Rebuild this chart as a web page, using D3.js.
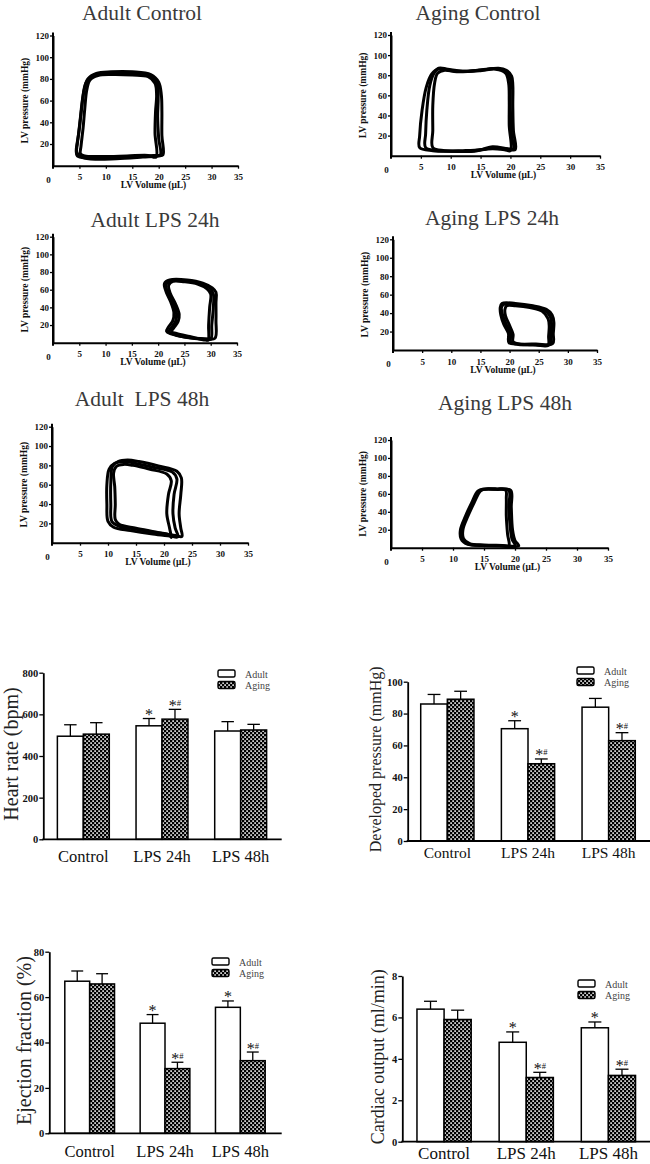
<!DOCTYPE html>
<html><head><meta charset="utf-8">
<script src="https://cdn.jsdelivr.net/npm/d3@7"></script>
<style>html,body{margin:0;padding:0;background:#fff;}svg{display:block;}</style>
</head><body>
<svg id="fig" width="650" height="1164"></svg>
<script>
// ---------------- DATA ----------------
const pvTitles = ["Adult Control", "Aging Control", "Adult LPS 24h", "Aging LPS 24h", "Adult  LPS 48h", "Aging LPS 48h"];
const volumeTicks = [0, 5, 10, 15, 20, 25, 30, 35];
const pressureTicks = [20, 40, 60, 80, 100, 120];
const volumeLabel = "LV Volume (\u03BCL)";
const pressureLabel = "LV pressure (mmHg)";

// PV loops: [volume (µL), pressure (mmHg)] per beat
const adultControlLoops = [
  [[20.3,10],[20.0,25],[19.8,45],[19.9,62],[19.8,75],[18.8,82],[16,85],[12,86],[9,85],[7.2,82],[6.2,76],[5.6,62],[5.2,45],[4.8,28],[4.4,14],[4.6,9],[6.5,7],[10,7],[15,8.5],[19,9.5]],
  [[20.8,10],[20.6,28],[20.6,50],[20.5,65],[20.0,77],[18.5,84],[15,86.5],[11,86.5],[8.2,85],[6.6,80],[5.9,70],[5.4,52],[5.0,35],[4.6,20],[4.5,12],[5.5,8],[8,6],[12,6.5],[17,8],[20,9]],
  [[19.5,8],[19.3,30],[19.4,50],[19.6,65],[19.3,76],[18,82],[15,83.5],[11,84],[8.5,83],[7,79],[6.4,70],[6.0,52],[5.7,35],[5.3,18],[5.2,11],[6,9],[9,8.5],[14,9],[18,9.5]]
];
const agingControlLoops = [
  [[20.5,7],[20.2,20],[20.0,45],[20.0,65],[20.0,76],[19.4,83],[18,86.5],[16,86],[13,84],[10,84.5],[8,86.5],[6.8,81],[5.9,68],[5.2,45],[4.8,20],[4.8,8],[7,5],[10,4.5],[14,4.5],[17,8],[19,7]],
  [[20.8,6],[20.5,25],[20.4,50],[20.4,70],[20.2,79],[19.3,85],[18,87],[15,85],[12,84],[9.5,86],[8,87],[7.2,82],[6.5,70],[6.0,45],[5.8,22],[5.8,8],[8,5],[12,5],[15,6],[17,9],[19.5,7]],
  [[20.0,5],[19.8,30],[19.8,55],[19.7,72],[19.2,82],[17.5,86],[15,84.5],[11,83.5],[9,85],[7.8,82],[7.3,72],[7.0,50],[7.0,25],[7.0,8],[9,5],[13,4.5],[17,7],[19,6]]
];
const adultLps24Loops = [
  [[30.0,4],[30.2,20],[30.5,40],[30.5,55],[29.8,62],[28,67],[25,70],[22.5,70],[21.5,66],[21.8,57],[22.8,45],[23.5,33],[23.3,24],[22.5,17],[22.0,12],[23,9.5],[25.5,6],[28.5,4]],
  [[29.5,3],[29.6,20],[29.8,40],[30.0,55],[29.3,61],[27.5,66.5],[25,69],[22.8,69.5],[22,65],[22.3,56],[23.3,44],[24.0,32],[23.8,24],[23.0,17],[22.5,12.5],[23.5,10.5],[26,7],[29,3]],
  [[30.8,5],[31.0,25],[31.0,45],[31.0,57],[30.3,62],[28.5,67.5],[25.5,71],[22.2,71],[21.2,67],[21.5,58],[22.4,46],[23.0,34],[22.8,25],[22.0,18],[21.6,13],[22.5,10],[25,6.5],[29,4.5]]
];
const agingLps24Loops = [
  [[27.0,6],[27.1,15],[27.2,28],[27.0,36],[26.0,43],[24,47],[21,49],[19,49.5],[18.6,46],[18.8,38],[19.4,28],[20.2,18],[20.2,9],[21.5,6],[24,6]],
  [[26.6,5],[26.7,15],[26.8,26],[26.6,34],[25.6,42],[23.5,46],[21,48],[19.5,48],[19.2,44],[19.3,37],[19.9,28],[20.6,17],[20.6,9],[22,6],[24.5,5.5]],
  [[27.4,7],[27.5,18],[27.6,30],[27.3,38],[26.3,44],[24,48],[21,50.5],[18.7,50.5],[18.4,46],[18.5,38],[19.0,28],[19.8,18],[19.9,8],[21.5,6.5],[24.5,6.5]]
];
const adultLps48Loops = [
  [[22.5,6],[22.0,15],[21.6,30],[21.8,50],[22.3,66],[21.5,73],[18,78],[15,82],[13,84],[11.2,82],[10.2,76],[9.8,60],[9.8,40],[10.0,22],[11,16],[14,12.5],[18,9],[21,7]],
  [[23.2,6.5],[23.0,15],[22.7,30],[23.0,50],[23.1,67],[22.3,74],[19,79.5],[15.5,84],[13.5,85.5],[11.8,84],[10.8,79],[10.5,62],[10.5,40],[10.7,22],[12,17],[15,14],[19,10],[22,7.5]],
  [[21.3,5.5],[21.0,15],[20.5,30],[20.8,50],[21.3,64],[20.5,71],[17.5,76],[14.5,80],[12.8,81],[11.5,79],[11.0,72],[11.2,58],[11.3,40],[11.3,24],[12,19],[15,15],[18.5,11],[21,8]]
];
const agingLps48Loops = [
  [[19.0,2],[18.8,15],[18.6,35],[18.6,55],[18.5,64],[17,65],[15,65],[14.2,63],[13.2,50],[12.2,35],[11.4,20],[11.5,10],[12.5,4],[15,2.5],[17.5,2.5]],
  [[20.0,2],[19.5,10],[19.2,25],[19.0,45],[19.0,64],[17,65.5],[15,65.5],[14.0,63],[13.0,50],[12.0,35],[11.2,20],[11.3,10],[12.3,4],[15,2.5],[17.5,2]],
  [[20.6,2],[20.0,8],[19.6,20],[19.4,45],[19.3,64],[17,65],[15,65],[14.4,63],[13.4,50],[12.4,35],[11.6,20],[11.7,10],[12.7,4.5],[15,3],[18,2.5]]
];
const pvLoops = [adultControlLoops, agingControlLoops, adultLps24Loops, agingLps24Loops, adultLps48Loops, agingLps48Loops];

// Bar charts
const barCategories = ["Control", "LPS 24h", "LPS 48h"];
const seriesNames = ["Adult", "Aging"];

const heartRateAdult = [495, 545, 520];
const heartRateAdultSem = [55, 35, 45];
const heartRateAging = [505, 577, 525];
const heartRateAgingSem = [55, 47, 27];
const heartRateAdultMarks = ["", "*", ""];
const heartRateAgingMarks = ["", "*#", ""];
const heartRateTicks = [0, 200, 400, 600, 800];

const devPressureAdult = [86, 70.5, 84];
const devPressureAdultSem = [6, 5, 5.5];
const devPressureAging = [89, 48.5, 63];
const devPressureAgingSem = [5, 3, 5];
const devPressureAdultMarks = ["", "*", ""];
const devPressureAgingMarks = ["", "*#", "*#"];
const devPressureTicks = [0, 20, 40, 60, 80, 100];

const ejectionAdult = [67, 48.5, 55.5];
const ejectionAdultSem = [4.5, 3.8, 2.8];
const ejectionAging = [65.8, 28.5, 32];
const ejectionAgingSem = [4.5, 2.8, 3.8];
const ejectionAdultMarks = ["", "*", "*"];
const ejectionAgingMarks = ["", "*#", "*#"];
const ejectionTicks = [0, 20, 40, 60, 80];

const cardiacAdult = [6.4, 4.8, 5.5];
const cardiacAdultSem = [0.38, 0.5, 0.28];
const cardiacAging = [5.9, 3.1, 3.2];
const cardiacAgingSem = [0.45, 0.25, 0.3];
const cardiacAdultMarks = ["", "*", "*"];
const cardiacAgingMarks = ["", "*#", "*#"];
const cardiacTicks = [0, 2, 4, 6, 8];

// ---------------- DRAWING ----------------
const svg = d3.select("#fig");
const SERIF = "'Liberation Serif','Times New Roman',serif";

const defs = svg.append("defs");
const pat = defs.append("pattern").attr("id", "checker")
  .attr("patternUnits", "userSpaceOnUse").attr("width", 4).attr("height", 4);
pat.append("rect").attr("width", 4).attr("height", 4).attr("fill", "#000");
pat.append("rect").attr("x", 0.3).attr("y", 0.3).attr("width", 1.6).attr("height", 1.6).attr("fill", "#fff");
pat.append("rect").attr("x", 2.3).attr("y", 2.3).attr("width", 1.6).attr("height", 1.6).attr("fill", "#fff");

// PV panel layout (pixel frames)
const pvLayout = [
  {x0: 53, x1: 238, y0: 165.7, y1: 35.5, tx: 142, ty: 20},
  {x0: 391, x1: 600, y0: 155.7, y1: 35, tx: 478, ty: 20},
  {x0: 53, x1: 237, y0: 342.7, y1: 236.7, tx: 155, ty: 227},
  {x0: 393, x1: 597, y0: 350, y1: 239.3, tx: 492, ty: 225},
  {x0: 52, x1: 248, y0: 542.7, y1: 426.7, tx: 142, ty: 406},
  {x0: 391, x1: 608, y0: 547.7, y1: 440, tx: 505, ty: 410}
];

pvLayout.forEach((L, i) => {
  const g = svg.append("g");
  const x = d3.scaleLinear().domain([0, 35]).range([L.x0, L.x1]);
  const y = d3.scaleLinear().domain([0, 120]).range([L.y0, L.y1]);

  g.append("text").attr("x", L.tx).attr("y", L.ty)
    .attr("text-anchor", "middle").style("white-space", "pre")
    .attr("font-family", SERIF).attr("font-size", 21.5).attr("fill", "#3a3a3a")
    .text(pvTitles[i]);

  const line = d3.line().x(d => x(d[0])).y(d => y(d[1])).curve(d3.curveCatmullRomClosed.alpha(0.5));
  g.selectAll("path.loop").data(pvLoops[i]).join("path").attr("class", "loop")
    .attr("d", line).attr("fill", "none").attr("stroke", "#000")
    .attr("stroke-width", 3).attr("stroke-linejoin", "round");

  const xa = g.append("g").attr("transform", `translate(0,${L.y0})`)
    .call(d3.axisBottom(x).tickValues(volumeTicks).tickSize(3).tickSizeOuter(0).tickFormat(d3.format("d")));
  const ya = g.append("g").attr("transform", `translate(${L.x0},0)`)
    .call(d3.axisLeft(y).tickValues(pressureTicks).tickSize(3).tickSizeOuter(0).tickFormat(d3.format("d")));
  [xa, ya].forEach(a => {
    a.select(".domain").attr("stroke", "#000").attr("stroke-width", 2);
    a.selectAll(".tick line").attr("stroke", "#000").attr("stroke-width", 1.3);
    a.selectAll(".tick text").attr("font-family", SERIF).attr("font-weight", "bold")
      .attr("font-size", 9).attr("fill", "#111");
  });
  xa.selectAll(".tick text").attr("dy", "0.95em");
  xa.selectAll(".tick").filter(d => d === 0).select("text").attr("x", -5).attr("dy", "1.25em");
  xa.selectAll(".tick").filter(d => d === 0).select("line").remove();
  ya.selectAll(".tick text").attr("x", -4);
  g.append("line").attr("x1", L.x0).attr("x2", L.x0).attr("y1", y(120) - 3).attr("y2", L.y0 + 3)
    .attr("stroke", "#000").attr("stroke-width", 2);

  g.append("text").attr("x", (L.x0 + L.x1) / 2 + 8).attr("y", L.y0 + 22.5)
    .attr("text-anchor", "middle").attr("font-family", SERIF).attr("font-weight", "bold")
    .attr("font-size", 9.5).attr("fill", "#111").text(volumeLabel);
  g.append("text").attr("transform", `translate(${L.x0 - 25},${(L.y0 + L.y1) / 2}) rotate(-90)`)
    .attr("text-anchor", "middle").attr("font-family", SERIF).attr("font-weight", "bold")
    .attr("font-size", 9.5).attr("fill", "#111").text(pressureLabel);
});

// Bar charts
const barCharts = [
  {adult: heartRateAdult, adultSem: heartRateAdultSem, aging: heartRateAging, agingSem: heartRateAgingSem,
   adultMarks: heartRateAdultMarks, agingMarks: heartRateAgingMarks, ticks: heartRateTicks, max: 800,
   label: "Heart rate (bpm)",
   L: {ax: 43.3, xEnd: 281.7, r0: 44, r1: 280, y0: 839.3, y1: 672.7, labX: 17.5, labSize: 20, catY: 861.5, catSize: 16.5, legX: 218, legY: 670}},
  {adult: devPressureAdult, adultSem: devPressureAdultSem, aging: devPressureAging, agingSem: devPressureAgingSem,
   adultMarks: devPressureAdultMarks, agingMarks: devPressureAgingMarks, ticks: devPressureTicks, max: 100,
   label: "Developed pressure (mmHg)",
   L: {ax: 407.7, xEnd: 650, r0: 407, r1: 649, y0: 841, y1: 681.7, labX: 381, labSize: 16, catY: 858.3, catSize: 15.5, legX: 577, legY: 667}},
  {adult: ejectionAdult, adultSem: ejectionAdultSem, aging: ejectionAging, agingSem: ejectionAgingSem,
   adultMarks: ejectionAdultMarks, agingMarks: ejectionAgingMarks, ticks: ejectionTicks, max: 80,
   label: "Ejection fraction (%)",
   L: {ax: 49.3, xEnd: 281.7, r0: 52, r1: 278, y0: 1133.3, y1: 951.7, labX: 31, labSize: 20, catY: 1156.5, catSize: 16.5, legX: 212, legY: 958}},
  {adult: cardiacAdult, adultSem: cardiacAdultSem, aging: cardiacAging, agingSem: cardiacAgingSem,
   adultMarks: cardiacAdultMarks, agingMarks: cardiacAgingMarks, ticks: cardiacTicks, max: 8,
   label: "Cardiac output (ml/min)",
   L: {ax: 402.3, xEnd: 650, r0: 403, r1: 649.5, y0: 1141.7, y1: 976, labX: 384, labSize: 18, catY: 1159, catSize: 17, legX: 578, legY: 980}}
];

barCharts.forEach(c => {
  const L = c.L;
  const g = svg.append("g");
  const x = d3.scaleBand().domain(barCategories).range([L.r0, L.r1]).paddingInner(0.34).paddingOuter(0.17);
  const xs = d3.scaleBand().domain(seriesNames).range([0, x.bandwidth()]);
  const y = d3.scaleLinear().domain([0, c.max]).range([L.y0, L.y1]);
  const bw = xs.bandwidth();

  const rows = barCategories.map((cat, i) => [
    {cat, s: "Adult", v: c.adult[i], e: c.adultSem[i], m: c.adultMarks[i]},
    {cat, s: "Aging", v: c.aging[i], e: c.agingSem[i], m: c.agingMarks[i]}
  ]).flat();

  const cap = bw * 0.48;
  rows.forEach(d => {
    const cx = x(d.cat) + xs(d.s) + bw / 2;
    g.append("line").attr("x1", cx).attr("x2", cx).attr("y1", y(d.v)).attr("y2", y(d.v + d.e))
      .attr("stroke", "#000").attr("stroke-width", 1.3);
    g.append("line").attr("x1", cx - cap / 2).attr("x2", cx + cap / 2).attr("y1", y(d.v + d.e)).attr("y2", y(d.v + d.e))
      .attr("stroke", "#000").attr("stroke-width", 1.3);
  });

  g.selectAll("rect.bar").data(rows).join("rect").attr("class", "bar")
    .attr("x", d => x(d.cat) + xs(d.s)).attr("width", bw)
    .attr("y", d => y(d.v)).attr("height", d => L.y0 - y(d.v))
    .attr("fill", d => d.s === "Adult" ? "#fff" : "url(#checker)")
    .attr("stroke", "#000").attr("stroke-width", 1.5);

  rows.filter(d => d.m).forEach(d => {
    const cx = x(d.cat) + xs(d.s) + bw / 2;
    const t = g.append("text").attr("x", cx).attr("y", y(d.v + d.e) + 1.5)
      .attr("text-anchor", "middle").attr("font-family", SERIF).attr("fill", "#111");
    t.append("tspan").attr("font-size", 16).text("*");
    if (d.m.includes("#")) t.append("tspan").attr("font-size", 8.5).attr("dy", -5).text("#");
  });

  const ya = g.append("g").attr("transform", `translate(${L.ax},0)`)
    .call(d3.axisLeft(y).tickValues(c.ticks).tickSize(4).tickSizeOuter(0).tickFormat(d3.format("d")));
  ya.select(".domain").attr("stroke", "#000").attr("stroke-width", 1.8);
  ya.selectAll(".tick line").attr("stroke", "#000").attr("stroke-width", 1.3);
  ya.selectAll(".tick text").attr("font-family", SERIF).attr("font-weight", "bold")
    .attr("font-size", 10.5).attr("fill", "#111").attr("x", -5);
  g.append("line").attr("x1", L.ax - 1).attr("x2", L.xEnd).attr("y1", L.y0).attr("y2", L.y0)
    .attr("stroke", "#000").attr("stroke-width", 1.8);

  g.selectAll("text.cat").data(barCategories).join("text").attr("class", "cat")
    .attr("x", d => x(d) + x.bandwidth() / 2).attr("y", L.catY)
    .attr("text-anchor", "middle").attr("font-family", SERIF).attr("font-size", L.catSize)
    .attr("fill", "#111").text(d => d);

  g.append("text").attr("transform", `translate(${L.labX},${(L.y0 + L.y1) / 2 - 2}) rotate(-90)`)
    .attr("text-anchor", "middle").attr("font-family", SERIF).attr("font-size", L.labSize)
    .attr("fill", "#222").text(c.label);

  seriesNames.forEach((s, j) => {
    const ly = L.legY + j * 11.5;
    g.append("rect").attr("x", L.legX).attr("y", ly).attr("width", 17).attr("height", 7).attr("rx", 1.5)
      .attr("fill", s === "Adult" ? "#fff" : "url(#checker)").attr("stroke", "#000").attr("stroke-width", 1.4);
    g.append("text").attr("x", L.legX + 27).attr("y", ly + 7.5).attr("font-family", SERIF)
      .attr("font-size", 10).attr("fill", "#444").text(s);
  });
});
</script>
</body></html>
